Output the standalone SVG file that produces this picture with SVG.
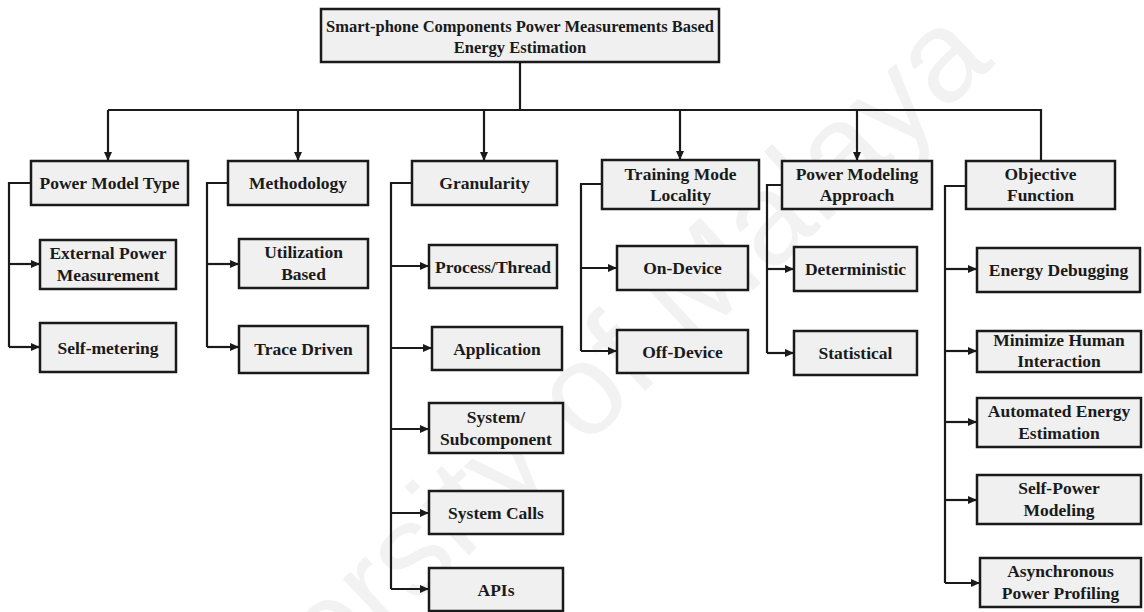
<svg xmlns="http://www.w3.org/2000/svg" width="1144" height="612" viewBox="0 0 1144 612">
  <style>
    .box { fill: #f0f0f0; stroke: #1a1a1a; stroke-width: 2.5; }
    .lbl { font-family: "Liberation Serif", "Times New Roman", serif; font-weight: bold; font-size: 17.5px; fill: #1a1a1a; text-anchor: middle; }
    .ttl { font-size: 16.5px; }
    .wire { fill: none; stroke: #1a1a1a; stroke-width: 2.2; }
    .arr { marker-end: url(#head); }
    .wm { font-family: "Liberation Sans", Arial, sans-serif; font-size: 130px; fill: #000; fill-opacity: 0.05; }
  </style>
  <defs>
    <marker id="head" markerUnits="userSpaceOnUse" markerWidth="10" markerHeight="9" refX="9" refY="4" orient="auto">
      <path d="M0,0 L9,4 L0,8 z" fill="#1a1a1a"/>
    </marker>
  </defs>
  <rect width="1144" height="612" fill="#ffffff"/>

  <!-- background watermark -->
  <text class="wm" transform="translate(140,862) rotate(-43)">University of Malaya</text>

  <!-- connectors -->
  <g id="connectors">
    <path class="wire" d="M520,62 V110 M108,110 H1041 V161"/>
    <path class="wire arr" d="M108,110 V161"/>
    <path class="wire arr" d="M298,110 V161"/>
    <path class="wire arr" d="M484,110 V161"/>
    <path class="wire arr" d="M680,110 V160"/>
    <path class="wire arr" d="M857,110 V161"/>

    <!-- Power Model Type branch -->
    <path class="wire" d="M31,183 H9 V347"/>
    <path class="wire arr" d="M9,264 H40"/>
    <path class="wire arr" d="M9,347 H40"/>

    <!-- Methodology branch -->
    <path class="wire" d="M228,183 H207 V347"/>
    <path class="wire arr" d="M207,264 H239"/>
    <path class="wire arr" d="M207,347 H239"/>

    <!-- Granularity branch -->
    <path class="wire" d="M412,183 H391 V589"/>
    <path class="wire arr" d="M391,266 H429"/>
    <path class="wire arr" d="M391,348 H432"/>
    <path class="wire arr" d="M391,429 H429"/>
    <path class="wire arr" d="M391,513 H429"/>
    <path class="wire arr" d="M391,589 H429"/>

    <!-- Training Mode Locality branch -->
    <path class="wire" d="M602,184 H581 V351"/>
    <path class="wire arr" d="M581,268 H617"/>
    <path class="wire arr" d="M581,351 H617"/>

    <!-- Power Modeling Approach branch -->
    <path class="wire" d="M782,185 H767 V353"/>
    <path class="wire arr" d="M767,269 H794"/>
    <path class="wire arr" d="M767,353 H794"/>

    <!-- Objective Function branch -->
    <path class="wire" d="M966,186 H945 V583"/>
    <path class="wire arr" d="M945,269 H977"/>
    <path class="wire arr" d="M945,351 H977"/>
    <path class="wire arr" d="M945,422 H977"/>
    <path class="wire arr" d="M945,500 H977"/>
    <path class="wire arr" d="M945,583 H980"/>
  </g>

  <!-- root -->
  <g id="root">
    <rect class="box" x="321" y="9" width="398" height="53"/>
    <text class="lbl ttl" x="520" y="32">Smart-phone Components Power Measurements  Based</text>
    <text class="lbl ttl" x="520" y="53">Energy Estimation</text>
  </g>

  <!-- categories -->
  <g id="power-model-type">
    <rect class="box" x="31" y="161" width="157" height="44"/>
    <text class="lbl" x="109.5" y="189">Power Model Type</text>
  </g>
  <g id="methodology">
    <rect class="box" x="228" y="161" width="140" height="44"/>
    <text class="lbl" x="298" y="189">Methodology</text>
  </g>
  <g id="granularity">
    <rect class="box" x="412" y="161" width="145" height="44"/>
    <text class="lbl" x="484.5" y="189">Granularity</text>
  </g>
  <g id="training-mode-locality">
    <rect class="box" x="602" y="160" width="157" height="49"/>
    <text class="lbl" x="680.5" y="179.5">Training Mode</text>
    <text class="lbl" x="680.5" y="200.5">Locality</text>
  </g>
  <g id="power-modeling-approach">
    <rect class="box" x="782" y="161" width="150" height="48"/>
    <text class="lbl" x="857" y="180">Power Modeling</text>
    <text class="lbl" x="857" y="201">Approach</text>
  </g>
  <g id="objective-function">
    <rect class="box" x="966" y="161" width="149" height="48"/>
    <text class="lbl" x="1040.5" y="180">Objective</text>
    <text class="lbl" x="1040.5" y="201">Function</text>
  </g>

  <!-- Power Model Type items -->
  <g id="external-power-measurement">
    <rect class="box" x="40" y="240" width="136" height="49"/>
    <text class="lbl" x="108" y="259">External Power</text>
    <text class="lbl" x="108" y="281">Measurement</text>
  </g>
  <g id="self-metering">
    <rect class="box" x="40" y="323" width="136" height="49"/>
    <text class="lbl" x="108" y="353.5">Self-metering</text>
  </g>

  <!-- Methodology items -->
  <g id="utilization-based">
    <rect class="box" x="239" y="239" width="129" height="49"/>
    <text class="lbl" x="303.5" y="258">Utilization</text>
    <text class="lbl" x="303.5" y="280">Based</text>
  </g>
  <g id="trace-driven">
    <rect class="box" x="239" y="326" width="129" height="47"/>
    <text class="lbl" x="303.5" y="355">Trace Driven</text>
  </g>

  <!-- Granularity items -->
  <g id="process-thread">
    <rect class="box" x="429" y="245" width="128" height="43"/>
    <text class="lbl" x="493" y="272.5">Process/Thread</text>
  </g>
  <g id="application">
    <rect class="box" x="432" y="327" width="130" height="43"/>
    <text class="lbl" x="497" y="354.5">Application</text>
  </g>
  <g id="system-subcomponent">
    <rect class="box" x="429" y="403" width="134" height="50"/>
    <text class="lbl" x="496" y="422.5">System/</text>
    <text class="lbl" x="496" y="444.5">Subcomponent</text>
  </g>
  <g id="system-calls">
    <rect class="box" x="429" y="491" width="134" height="43"/>
    <text class="lbl" x="496" y="518.5">System Calls</text>
  </g>
  <g id="apis">
    <rect class="box" x="429" y="568" width="134" height="43"/>
    <text class="lbl" x="496" y="595.5">APIs</text>
  </g>

  <!-- Training Mode Locality items -->
  <g id="on-device">
    <rect class="box" x="617" y="246" width="131" height="44"/>
    <text class="lbl" x="682.5" y="274">On-Device</text>
  </g>
  <g id="off-device">
    <rect class="box" x="617" y="330" width="131" height="43"/>
    <text class="lbl" x="682.5" y="357.5">Off-Device</text>
  </g>

  <!-- Power Modeling Approach items -->
  <g id="deterministic">
    <rect class="box" x="794" y="247" width="123" height="44"/>
    <text class="lbl" x="855.5" y="275">Deterministic</text>
  </g>
  <g id="statistical">
    <rect class="box" x="794" y="331" width="123" height="44"/>
    <text class="lbl" x="855.5" y="359">Statistical</text>
  </g>

  <!-- Objective Function items -->
  <g id="energy-debugging">
    <rect class="box" x="977" y="248" width="163" height="44"/>
    <text class="lbl" x="1058.5" y="276">Energy Debugging</text>
  </g>
  <g id="minimize-human-interaction">
    <rect class="box" x="977" y="331" width="164" height="41"/>
    <text class="lbl" x="1059" y="346">Minimize Human</text>
    <text class="lbl" x="1059" y="367">Interaction</text>
  </g>
  <g id="automated-energy-estimation">
    <rect class="box" x="977" y="398" width="164" height="49"/>
    <text class="lbl" x="1059" y="417">Automated Energy</text>
    <text class="lbl" x="1059" y="438.5">Estimation</text>
  </g>
  <g id="self-power-modeling">
    <rect class="box" x="977" y="475" width="164" height="49"/>
    <text class="lbl" x="1059" y="494">Self-Power</text>
    <text class="lbl" x="1059" y="516">Modeling</text>
  </g>
  <g id="asynchronous-power-profiling">
    <rect class="box" x="980" y="558" width="161" height="49"/>
    <text class="lbl" x="1060.5" y="577">Asynchronous</text>
    <text class="lbl" x="1060.5" y="599">Power Profiling</text>
  </g>
</svg>
